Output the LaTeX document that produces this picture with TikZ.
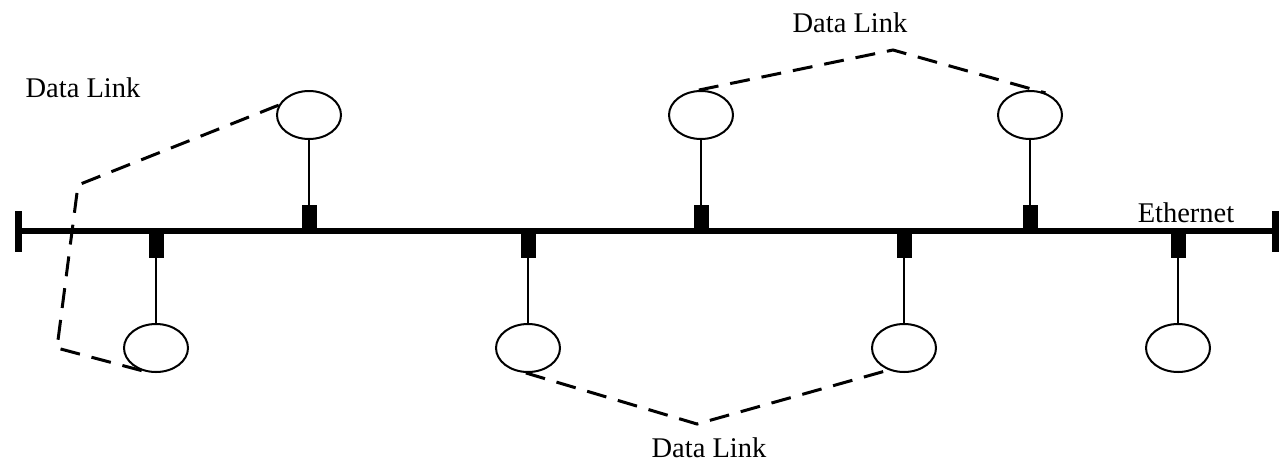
\documentclass[tikz,border=0pt]{standalone}
\usepackage{fontspec}
\setmainfont{Liberation Serif}
\usetikzlibrary{shapes.geometric}
\begin{document}
\begin{tikzpicture}[x=1pt,y=-1pt,
  station/.style={draw,ellipse,line width=2pt,minimum width=64pt,minimum height=48pt,inner sep=0pt},
  tapbox/.style={fill=black,draw=none,rectangle,minimum width=15pt,minimum height=26pt,inner sep=0pt},
  endcap/.style={fill=black,draw=none,rectangle,minimum width=7pt,minimum height=41pt,inner sep=0pt},
  drop/.style={line width=1.6pt},
  bus/.style={line width=6pt},
  datalink/.style={line width=3pt,dash pattern=on 20pt off 12pt},
  lbl/.style={anchor=base,inner sep=0pt,font=\fontsize{28.5}{34}\selectfont}]
\useasboundingbox (0,0) rectangle (1281,464);

% bus terminators
\node[endcap] (lend) at (18,231) {};
\node[endcap] (rend) at (1275,231) {};

% taps above the bus
\node[tapbox] (t1) at (309,218) {};
\node[tapbox] (t2) at (701,218) {};
\node[tapbox] (t3) at (1030,218) {};
% taps below the bus
\node[tapbox] (b1) at (156,245) {};
\node[tapbox] (b2) at (528,245) {};
\node[tapbox] (b3) at (904,245) {};
\node[tapbox] (b4) at (1178,245) {};

% the Ethernet segment
\draw[bus] (lend.center) -- (rend.center);

% stations
\node[station] (et1) at (309,115) {};
\node[station] (et2) at (701,115) {};
\node[station] (et3) at (1030,115) {};
\node[station] (eb1) at (156,348) {};
\node[station] (eb2) at (528,348) {};
\node[station] (eb3) at (904,348) {};
\node[station] (eb4) at (1178,348) {};

% drop cables
\foreach \s/\e in {t1/et1,t2/et2,t3/et3,b1/eb1,b2/eb2,b3/eb3,b4/eb4}
  \draw[drop] (\s) -- (\e);

% data link bends
\coordinate (cl1) at (78,185);
\coordinate (cl2) at (57,348);
\coordinate (ct) at (893,50);
\coordinate (cb) at (697,424);

% data links
\draw[datalink] (et1.162) -- (cl1) -- (cl2) -- (eb1.250);
\draw[datalink] (et2.95) -- (ct) -- (et3.55);
\draw[datalink] (eb2.265) -- (cb) -- (eb3.235);

% labels
\node[lbl] (ldl) at (83,97) {Data Link};
\node[lbl] (tdl) at (850,32) {Data Link};
\node[lbl] (bdl) at (709,457) {Data Link};
\node[lbl] (eth) at (1186,222) {Ethernet};
\end{tikzpicture}
\end{document}
